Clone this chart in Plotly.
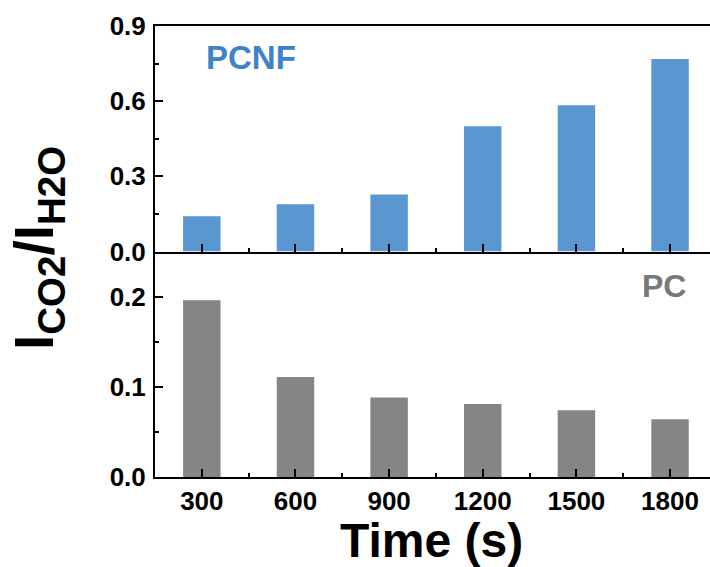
import plotly.graph_objects as go

# Reaction time (s) and CO2/H2O intensity ratios
time_s = [300, 600, 900, 1200, 1500, 1800]
pcnf_ratio = [0.141, 0.189, 0.227, 0.500, 0.584, 0.768]
pc_ratio = [0.196, 0.111, 0.088, 0.081, 0.074, 0.064]

blue = "rgb(90,150,208)"
gray = "rgb(133,133,133)"
font_family = "Liberation Sans, Arial, sans-serif"

fig = go.Figure()
fig.add_trace(go.Bar(x=time_s, y=pcnf_ratio, width=120, marker_color=blue,
                     marker_line_width=0, xaxis="x2", yaxis="y2"))
fig.add_trace(go.Bar(x=time_s, y=pc_ratio, width=120, marker_color=gray,
                     marker_line_width=0, xaxis="x", yaxis="y"))

tick_font = dict(family=font_family, size=26, color="black", weight="bold")
minor_ticks = dict(ticks="inside", ticklen=4, tickwidth=2, tickcolor="black")
axis_common = dict(showline=True, linecolor="black", linewidth=2,
                   ticks="inside", ticklen=8, tickwidth=2, tickcolor="black",
                   showgrid=False, zeroline=False, tickfont=tick_font,
                   layer="above traces")
between = [t + 150 for t in time_s[:-1]]

fig.update_layout(
    width=710, height=567,
    margin=dict(l=155, r=0, t=26, b=90),
    plot_bgcolor="white", paper_bgcolor="white",
    showlegend=False,
    xaxis=dict(domain=[0, 1], anchor="y", range=[150, 1928],
               tickmode="array", tickvals=time_s,
               ticktext=[str(t) for t in time_s],
               minor=dict(tickmode="array", tickvals=between, **minor_ticks),
               ticklabelstandoff=0, **axis_common),
    yaxis=dict(domain=[0, 0.5], anchor="x", range=[0, 0.25],
               tickmode="linear", tick0=0, dtick=0.1, tickformat=".1f",
               minor=dict(dtick=0.05, **minor_ticks),
               ticklabelstandoff=2, **axis_common),
    xaxis2=dict(domain=[0, 1], anchor="y2", range=[150, 1928],
                tickmode="array", tickvals=time_s, showticklabels=False,
                mirror=True,
                minor=dict(tickmode="array", tickvals=between, **minor_ticks),
                **axis_common),
    yaxis2=dict(domain=[0.5, 1], anchor="x2", range=[0, 0.9],
                tickmode="linear", tick0=0, dtick=0.3, tickformat=".1f",
                minor=dict(dtick=0.15, **minor_ticks),
                ticklabelstandoff=2, **axis_common),
)

annotations = [
    dict(text="PCNF", x=458, y=0.776, xref="x2", yref="y2",
         xanchor="center", yanchor="middle", showarrow=False,
         font=dict(family=font_family, size=33, color="rgb(62,130,200)",
                   weight="bold")),
    dict(text="PC", x=1781, y=0.212, xref="x", yref="y",
         xanchor="center", yanchor="middle", showarrow=False,
         font=dict(family=font_family, size=32, color="rgb(120,120,120)",
                   weight="bold")),
    dict(text="Time (s)", x=(431 - 155) / 555, y=-0.14, xref="paper", yref="paper",
         xanchor="center", yanchor="middle", showarrow=False,
         font=dict(family=font_family, size=48, color="black", weight="bold")),
    dict(text="I<sub>CO2</sub>/I<sub>H2O</sub>", x=(38 - 155) / 555,
         y=(477 - 248) / 451, xref="paper", yref="paper",
         xanchor="center", yanchor="middle", textangle=-90, showarrow=False,
         font=dict(family=font_family, size=55, color="black", weight="bold")),
]
fig.update_layout(annotations=annotations)

fig.write_html("out.html")
